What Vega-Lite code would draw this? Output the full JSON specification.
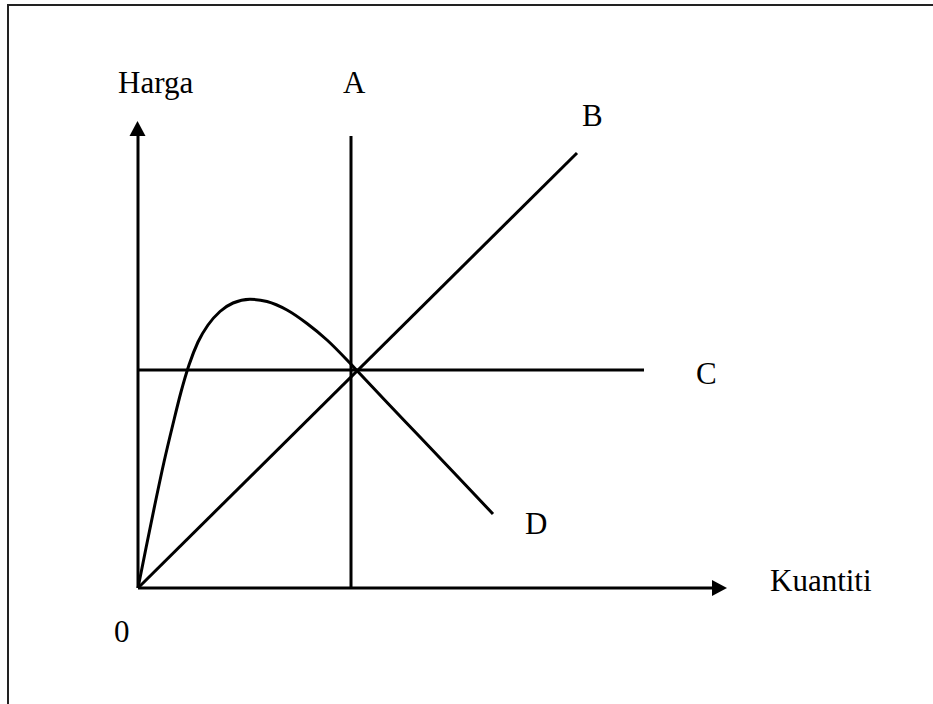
{
  "$schema": "https://vega.github.io/schema/vega-lite/v6.json",
  "width": 933,
  "height": 704,
  "padding": 0,
  "autosize": {"type": "fit", "contains": "padding"},
  "background": "white",
  "config": {"view": {"stroke": null}},
  "datasets": {
    "frame": [{"q1": -130, "p1": 583, "q2": 900, "p2": -300}],
    "segments": [
      {"name": "y-axis", "q1": 0, "p1": 0, "q2": 0, "p2": 452},
      {"name": "x-axis", "q1": 0, "p1": 0, "q2": 574, "p2": 0},
      {"name": "A", "q1": 213, "p1": 0, "q2": 213, "p2": 452},
      {"name": "B", "q1": 0, "p1": 0, "q2": 439, "p2": 435},
      {"name": "C", "q1": 0, "p1": 218, "q2": 506, "p2": 218}
    ],
    "curveD": [
      {"q": 0, "p": 0},
      {"q": 8, "p": 40},
      {"q": 17, "p": 84},
      {"q": 26, "p": 126},
      {"q": 35, "p": 164},
      {"q": 43, "p": 196},
      {"q": 51, "p": 223},
      {"q": 60, "p": 246},
      {"q": 70, "p": 263},
      {"q": 82, "p": 276.5},
      {"q": 95, "p": 285},
      {"q": 112, "p": 288.7},
      {"q": 129, "p": 286.5},
      {"q": 149, "p": 278},
      {"q": 169, "p": 264.5},
      {"q": 189, "p": 248},
      {"q": 209, "p": 228},
      {"q": 217, "p": 219.5},
      {"q": 250, "p": 184.5},
      {"q": 282, "p": 151},
      {"q": 320, "p": 111},
      {"q": 355, "p": 74}
    ],
    "arrows": [
      {"dir": "up", "q": -0.5, "p": 459.5},
      {"dir": "right", "q": 581.5, "p": 0}
    ],
    "labels": [
      {"label": "Harga", "q": -20, "p": 495},
      {"label": "A", "q": 205, "p": 495},
      {"label": "B", "q": 444, "p": 462},
      {"label": "C", "q": 558, "p": 204},
      {"label": "D", "q": 387, "p": 54},
      {"label": "Kuantiti", "q": 632, "p": -3},
      {"label": "0", "q": -24, "p": -54}
    ]
  },
  "layer": [
    {
      "data": {"name": "frame"},
      "mark": {"type": "rect", "fill": null, "stroke": "#222222", "strokeWidth": 2, "clip": true},
      "encoding": {
        "x": {"field": "q1", "type": "quantitative", "scale": {"domain": [-138, 795], "nice": false, "zero": false}, "axis": null},
        "x2": {"field": "q2"},
        "y": {"field": "p1", "type": "quantitative", "scale": {"domain": [-116, 588], "nice": false, "zero": false}, "axis": null},
        "y2": {"field": "p2"}
      }
    },
    {
      "data": {"name": "segments"},
      "mark": {"type": "rule", "color": "black", "strokeWidth": 3, "strokeCap": "butt"},
      "encoding": {
        "x": {"field": "q1", "type": "quantitative"},
        "x2": {"field": "q2"},
        "y": {"field": "p1", "type": "quantitative"},
        "y2": {"field": "p2"}
      }
    },
    {
      "data": {"name": "curveD"},
      "mark": {"type": "line", "color": "black", "strokeWidth": 3, "interpolate": "monotone"},
      "encoding": {
        "x": {"field": "q", "type": "quantitative"},
        "y": {"field": "p", "type": "quantitative"}
      }
    },
    {
      "data": {"name": "arrows"},
      "mark": {"type": "point", "filled": true, "color": "black", "opacity": 1, "size": 256},
      "encoding": {
        "x": {"field": "q", "type": "quantitative"},
        "y": {"field": "p", "type": "quantitative"},
        "shape": {
          "field": "dir",
          "type": "nominal",
          "scale": {"domain": ["up", "right"], "range": ["M0,-0.94L1,0.94L-1,0.94Z", "M0.94,0L-0.94,1L-0.94,-1Z"]},
          "legend": null
        }
      }
    },
    {
      "data": {"name": "labels"},
      "mark": {"type": "text", "font": "Liberation Serif", "fontSize": 31, "color": "black", "align": "left", "baseline": "alphabetic"},
      "encoding": {
        "x": {"field": "q", "type": "quantitative"},
        "y": {"field": "p", "type": "quantitative"},
        "text": {"field": "label", "type": "nominal"}
      }
    }
  ]
}
